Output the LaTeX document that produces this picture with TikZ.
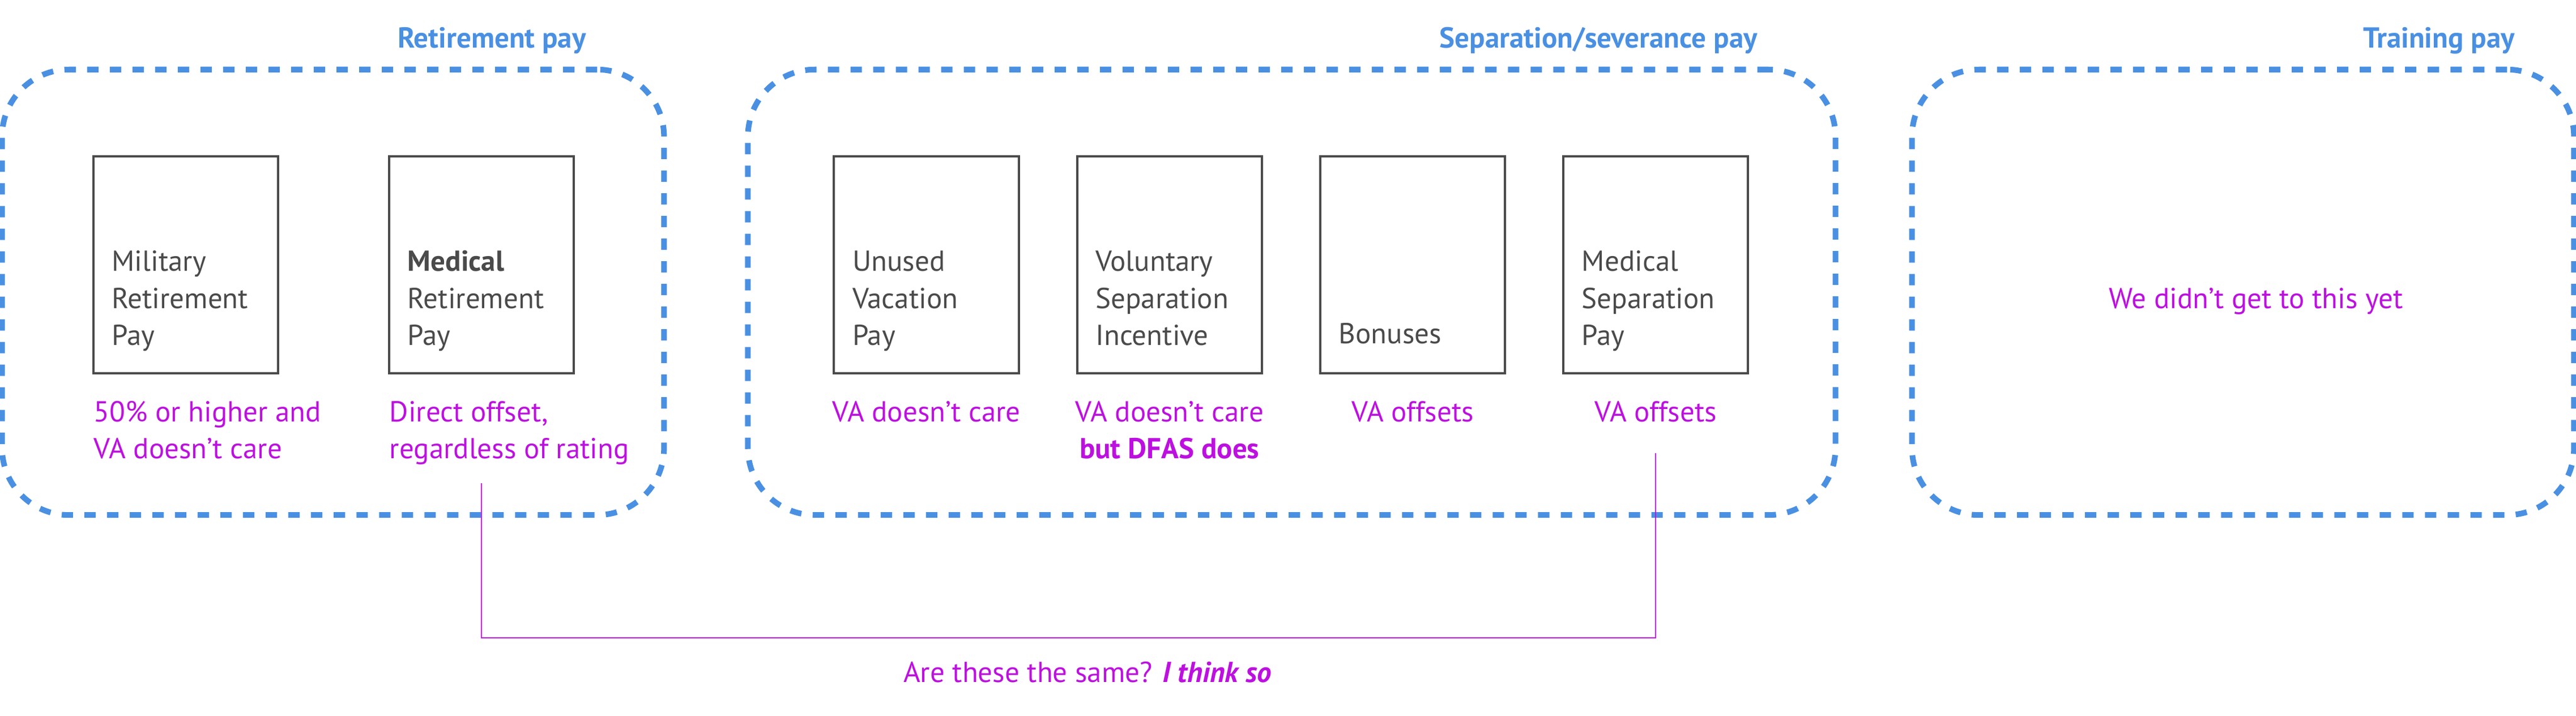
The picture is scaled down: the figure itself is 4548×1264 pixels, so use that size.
\documentclass[tikz,border=0pt]{standalone}
\usepackage{fontspec}
\setmainfont{PT Sans}
\usepackage{xcolor}
\usetikzlibrary{positioning, calc}
\definecolor{paneblue}{HTML}{4A90E2}
\definecolor{notepink}{HTML}{BD10E0}
\definecolor{boxgray}{HTML}{4A4A4A}
\newcommand{\paysize}{\fontsize{14.5}{18.5}\selectfont}
\tikzset{every picture/.style={font=\paysize},
         group/.style={draw=paneblue, line width=0.1cm, dash pattern=on 0.2cm off 0.2cm,
                       rounded corners=1.18cm, minimum width=11.68cm, minimum height=7.86cm,
                       inner sep=0, outer sep=0},
         grouptitle/.style={text=paneblue, font=\paysize\bfseries, anchor=base east, inner sep=0},
         paybox/.style={draw=boxgray, line width=0.04cm, minimum width=3.26cm,
                        minimum height=3.83cm, inner sep=0, outer sep=0},
         intext/.style={text=boxgray, align=left, anchor=base west, inner sep=0},
         note/.style={text=notepink, inner sep=0},
         link/.style={draw=notepink, line width=0.02cm}
        }
\begin{document}
\begin{tikzpicture}[x=0.01cm, y=0.01cm, node distance=1.03cm]
\useasboundingbox (0,0) rectangle (4548,1264);

\node[group](retire) at (588,748){};
\node[group, minimum width=19.19cm](separate) at (2280.5,748){};
\node[group](training) at (3960,748){};

\node[grouptitle](retiretitle) at ($(retire.north east)+(-137,38)$){Retirement pay};
\node[grouptitle](separatetitle) at ($(separate.north east)+(-137,38)$){Separation/severance pay};
\node[grouptitle](trainingtitle) at ($(training.north east)+(-104,38)$){Training pay};

\node[paybox](milret) at (328,796.5){};
\node[paybox, right = 1.96cm of milret](medret){};
\node[paybox](unused) at (1635.5,796.5){};
\node[paybox, right = of unused](vsi){};
\node[paybox, right = of vsi](bonus){};
\node[paybox, right = of bonus](medsep){};

\node[intext](milrettxt) at ($(milret.south west)+(32,50)$){Military\\Retirement\\Pay};
\node[intext](medrettxt) at ($(medret.south west)+(32,50)$){\textbf{Medical}\\Retirement\\Pay};
\node[intext](unusedtxt) at ($(unused.south west)+(32,50)$){Unused\\Vacation\\Pay};
\node[intext](vsitxt) at ($(vsi.south west)+(32,50)$){Voluntary\\Separation\\Incentive};
\node[intext](bonustxt) at ($(bonus.south west)+(32,53)$){Bonuses};
\node[intext](medseptxt) at ($(medsep.south west)+(32,50)$){Medical\\Separation\\Pay};

\node[note, align=left, anchor=base west](milretnote) at ($(milret.south west)+(0,-150)$){50\% or higher and\\VA doesn’t care};
\node[note, align=left, anchor=base west](medretnote) at ($(medret.south west)+(0,-150)$){Direct offset,\\regardless of rating};
\node[note, anchor=base](unusednote) at ($(unused.south)+(0,-85)$){VA doesn’t care};
\node[note, align=center, anchor=base](vsinote) at ($(vsi.south)+(0,-150)$){VA doesn’t care\\\textbf{but DFAS does}};
\node[note, anchor=base](bonusnote) at ($(bonus.south)+(0,-85)$){VA offsets};
\node[note, anchor=base](medsepnote) at ($(medsep.south)+(0,-85)$){VA offsets};

\node[note, anchor=base](todo) at ($(training.center)+(23,-29)$){We didn’t get to this yet};

\coordinate (linkstart) at ($(medret.south)+(0,-194)$);
\coordinate (linkend) at ($(medsep.south)+(0,-141)$);
\coordinate (linkbottom) at (0,138);
\node[note, anchor=base](question) at (1920,59){Are these the same? \textbf{\textit{I think so}}};
\draw[link] (linkstart) -- (linkstart |- linkbottom) -| (linkend);
\end{tikzpicture}
\end{document}
